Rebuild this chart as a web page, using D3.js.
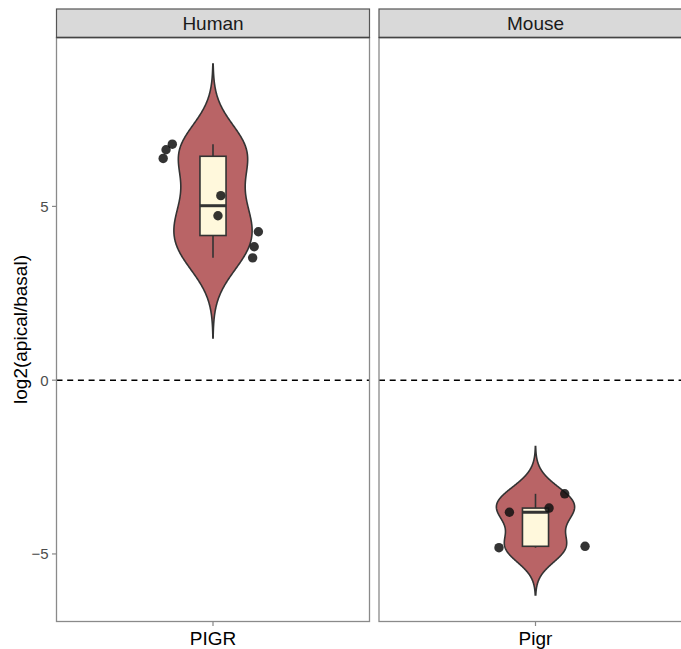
<!DOCTYPE html>
<html>
<head>
<meta charset="utf-8">
<script src="https://cdn.jsdelivr.net/npm/d3@7"></script>
<style>
  html, body { margin: 0; padding: 0; background: #fff; }
  svg { display: block; font-family: "Liberation Sans", Arial, sans-serif; }
</style>
</head>
<body>
<svg id="chart" width="681" height="649"></svg>
<script>
// ---------------- data ----------------
const facets = ["Human", "Mouse"];
const genes = ["PIGR", "Pigr"];
const humanValues = [6.79, 6.63, 6.38, 5.31, 4.73, 4.27, 3.84, 3.52];
const humanJitter = [-0.156, -0.180, -0.191, 0.030, 0.019, 0.174, 0.158, 0.152];
const mouseValues = [-3.80, -3.68, -3.27, -4.82, -4.78];
const mouseJitter = [-0.100, 0.052, 0.112, -0.140, 0.190];
const yTicks = [-5, 0, 5];
const yTitle = "log2(apical/basal)";

// ---------------- helpers ----------------
function quantile7(sorted, p) {
  const h = (sorted.length - 1) * p, lo = Math.floor(h), hi = Math.ceil(h);
  return sorted[lo] + (h - lo) * (sorted[hi] - sorted[lo]);
}
function bwNrd0(v) {
  const s = v.slice().sort(d3.ascending);
  const sd = d3.deviation(v);
  const iqr = quantile7(s, 0.75) - quantile7(s, 0.25);
  const lo = Math.min(sd, iqr / 1.34);
  return 0.9 * lo * Math.pow(v.length, -0.2);
}
function kde(v, bw) {
  const lo = d3.min(v) - 3 * bw, hi = d3.max(v) + 3 * bw, n = 512;
  const out = [];
  for (let i = 0; i < n; i++) {
    const y = lo + (hi - lo) * i / (n - 1);
    let d = 0;
    for (const x of v) { const z = (y - x) / bw; d += Math.exp(-0.5 * z * z); }
    out.push({ y, d: d / (v.length * bw * Math.sqrt(2 * Math.PI)) });
  }
  const m = d3.max(out, o => o.d);
  out.forEach(o => o.w = o.d / m);
  return out;
}

const groups = [
  { facet: facets[0], gene: genes[0], values: humanValues, jitter: humanJitter },
  { facet: facets[1], gene: genes[1], values: mouseValues, jitter: mouseJitter }
];
groups.forEach(g => {
  g.bw = bwNrd0(g.values);
  g.dens = kde(g.values, g.bw);
  const s = g.values.slice().sort(d3.ascending);
  g.q1 = quantile7(s, 0.25); g.med = quantile7(s, 0.5); g.q3 = quantile7(s, 0.75);
  g.min = s[0]; g.max = s[s.length - 1];
});

// ---------------- layout ----------------
const svg = d3.select("#chart");
const panelTop = 37.5, panelBottom = 621.5, stripTop = 9;
const panels = [{ x0: 56.5, x1: 369.5 }, { x0: 379, x1: 692 }];

const allLo = d3.min(groups, g => g.dens[0].y);
const allHi = d3.max(groups, g => g.dens[g.dens.length - 1].y);
const pad = 0.05 * (allHi - allLo);
const y = d3.scaleLinear().domain([allLo - pad, allHi + pad]).range([panelBottom, panelTop]);

const violinWidth = 0.3, boxWidth = 0.1;
const ink = "#333";

groups.forEach((g, i) => {
  const p = panels[i];
  const x = d3.scaleLinear().domain([0.4, 1.6]).range([p.x0, p.x1]);
  const gp = svg.append("g");

  gp.append("rect").attr("x", p.x0).attr("y", panelTop)
    .attr("width", p.x1 - p.x0).attr("height", panelBottom - panelTop)
    .attr("fill", "#fff");

  gp.append("line").attr("x1", p.x0).attr("x2", p.x1)
    .attr("y1", y(0)).attr("y2", y(0))
    .attr("stroke", "#000").attr("stroke-width", 1.4)
    .attr("stroke-dasharray", "6,4.7");

  const right = g.dens.map(o => [x(1 + o.w * violinWidth / 2), y(o.y)]);
  const left = g.dens.slice().reverse().map(o => [x(1 - o.w * violinWidth / 2), y(o.y)]);
  gp.append("path")
    .attr("d", d3.line()(right.concat(left)) + "Z")
    .attr("fill", "#b96466").attr("stroke", ink).attr("stroke-width", 1.6);

  const bx0 = x(1 - boxWidth / 2), bx1 = x(1 + boxWidth / 2);
  gp.append("line").attr("x1", x(1)).attr("x2", x(1))
    .attr("y1", y(g.q3)).attr("y2", y(g.max)).attr("stroke", ink).attr("stroke-width", 1.6);
  gp.append("line").attr("x1", x(1)).attr("x2", x(1))
    .attr("y1", y(g.q1)).attr("y2", y(g.min)).attr("stroke", ink).attr("stroke-width", 1.6);
  gp.append("rect").attr("x", bx0).attr("y", y(g.q3))
    .attr("width", bx1 - bx0).attr("height", y(g.q1) - y(g.q3))
    .attr("fill", "#fff8dc").attr("stroke", ink).attr("stroke-width", 1.6);
  gp.append("line").attr("x1", bx0).attr("x2", bx1)
    .attr("y1", y(g.med)).attr("y2", y(g.med)).attr("stroke", ink).attr("stroke-width", 3);

  gp.selectAll("circle.pt").data(g.values).join("circle").attr("class", "pt")
    .attr("cx", (d, k) => x(1 + g.jitter[k])).attr("cy", d => y(d))
    .attr("r", 4.7).attr("fill", "#111").attr("fill-opacity", 0.85);

  gp.append("rect").attr("x", p.x0).attr("y", panelTop)
    .attr("width", p.x1 - p.x0).attr("height", panelBottom - panelTop)
    .attr("fill", "none").attr("stroke", "#8a8a8a").attr("stroke-width", 1.3);

  gp.append("rect").attr("x", p.x0).attr("y", stripTop)
    .attr("width", p.x1 - p.x0).attr("height", panelTop - stripTop)
    .attr("fill", "#d9d9d9").attr("stroke", "#555").attr("stroke-width", 1.2);
  gp.append("line").attr("x1", p.x0).attr("x2", p.x1)
    .attr("y1", panelTop).attr("y2", panelTop).attr("stroke", "#444").attr("stroke-width", 1.6);
  gp.append("text").attr("x", (p.x0 + p.x1) / 2).attr("y", 30)
    .attr("text-anchor", "middle").attr("font-size", 19).attr("fill", "#1a1a1a")
    .text(g.facet);

  gp.append("line").attr("x1", x(1)).attr("x2", x(1))
    .attr("y1", panelBottom).attr("y2", panelBottom + 4.5)
    .attr("stroke", "#888").attr("stroke-width", 1.2);
  gp.append("text").attr("x", x(1)).attr("y", 645)
    .attr("text-anchor", "middle").attr("font-size", 19).attr("fill", "#000")
    .text(g.gene);
});

const ya = svg.append("g");
yTicks.forEach(t => {
  ya.append("line").attr("x1", panels[0].x0 - 4.5).attr("x2", panels[0].x0)
    .attr("y1", y(t)).attr("y2", y(t)).attr("stroke", "#888").attr("stroke-width", 1.2);
  ya.append("text").attr("x", panels[0].x0 - 8).attr("y", y(t))
    .attr("dy", "0.36em").attr("text-anchor", "end")
    .attr("font-size", 15).attr("fill", "#4d4d4d")
    .text(t < 0 ? "\u2212" + Math.abs(t) : String(t));
});
ya.append("text")
  .attr("transform", `translate(27,${(panelTop + panelBottom) / 2}) rotate(-90)`)
  .attr("text-anchor", "middle").attr("font-size", 19).attr("fill", "#000")
  .text(yTitle);
</script>
</body>
</html>
